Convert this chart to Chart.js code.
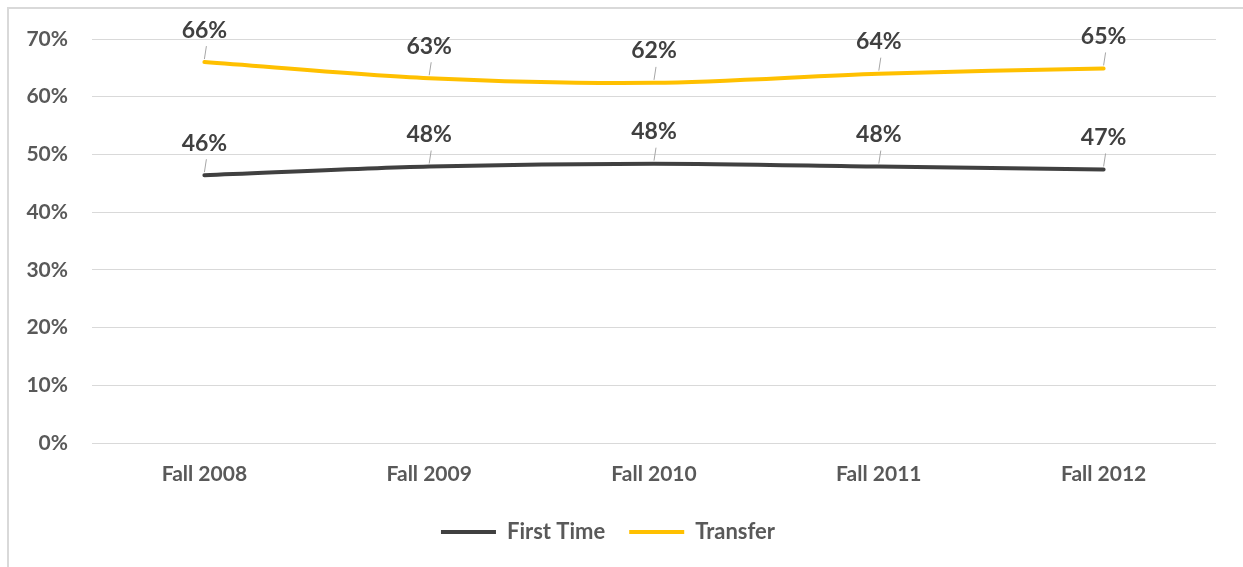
<!DOCTYPE html>
<html lang="en">
<head>
<meta charset="UTF-8">
<title>First Time vs Transfer</title>
<script src="https://cdn.jsdelivr.net/npm/chart.js"></script>
<style>
    html, body { margin: 0; padding: 0; background: #fff; overflow: hidden; }
    .frame { position: absolute; left: 7px; top: 7px; width: 1300px; height: 600px;
             border-left: 2px solid #d9d9d9; border-top: 2px solid #d9d9d9; }
    .chart-box { position: absolute; left: 0; top: 0; width: 1243px; height: 567px; }
</style>
</head>
<body>
<div class="frame"></div>
<div class="chart-box">
    <canvas id="lineChart"></canvas>
</div>

<script>
const terms = ['Fall 2008', 'Fall 2009', 'Fall 2010', 'Fall 2011', 'Fall 2012'];
const firstTime = [46.4, 47.9, 48.4, 47.9, 47.4];
const transfer = [66.0, 63.2, 62.4, 64.0, 64.9];
const yTicks = [0, 10, 20, 30, 40, 50, 60, 70];

const textColor = '#595959';
const labelColor = '#404040';
const fontName = 'Lato, "Open Sans", sans-serif';

// data labels above each point, with a short leader line
const pointLabels = {
    id: 'pointLabels',
    afterDatasetsDraw(chart) {
        const ctx = chart.ctx;
        ctx.save();
        chart.data.datasets.forEach((ds, i) => {
            chart.getDatasetMeta(i).data.forEach((pt, j) => {
                ctx.strokeStyle = '#a6a6a6';
                ctx.lineWidth = 1;
                ctx.beginPath();
                ctx.moveTo(pt.x, pt.y - 3);
                ctx.lineTo(pt.x + 2, pt.y - 16);
                ctx.stroke();
                ctx.fillStyle = labelColor;
                ctx.font = 'bold 23px ' + fontName;
                ctx.textAlign = 'center';
                ctx.textBaseline = 'middle';
                ctx.fillText(Math.round(ds.data[j]) + '%', pt.x, pt.y - 32);
            });
        });
        ctx.restore();
    }
};

new Chart(document.getElementById('lineChart'), {
    type: 'line',
    data: {
        labels: terms,
        datasets: [
            { label: 'First Time', data: firstTime, borderColor: '#404040', backgroundColor: '#404040',
              borderWidth: 4, pointRadius: 0, tension: 0.3, borderCapStyle: 'round' },
            { label: 'Transfer', data: transfer, borderColor: '#ffc000', backgroundColor: '#ffc000',
              borderWidth: 4, pointRadius: 0, tension: 0.3, borderCapStyle: 'round' }
        ]
    },
    options: {
        responsive: true,
        maintainAspectRatio: false,
        animation: false,
        layout: { padding: { top: 39, right: 27, bottom: 14, left: 0 } },
        plugins: {
            tooltip: { enabled: false },
            legend: {
                position: 'bottom',
                labels: {
                    color: textColor,
                    font: { family: fontName, size: 22, weight: 'bold' },
                    boxWidth: 55, boxHeight: 0, padding: 24,
                    generateLabels(chart) {
                        return chart.data.datasets.map((ds, i) => ({
                            text: ds.label, strokeStyle: ds.borderColor, fillStyle: ds.borderColor,
                            lineWidth: 4, lineCap: 'round', fontColor: textColor, datasetIndex: i
                        }));
                    }
                }
            }
        },
        scales: {
            x: {
                offset: true,
                grid: { display: false },
                border: { display: false },
                ticks: { color: textColor, font: { family: fontName, size: 21, weight: 'bold' }, padding: 11 },
                afterFit(scale) { scale.height = 54; }
            },
            y: {
                min: 0, max: 70,
                afterBuildTicks(scale) { scale.ticks = yTicks.map(v => ({ value: v })); },
                grid: { color: '#d9d9d9', drawTicks: false },
                border: { display: false },
                ticks: { color: textColor, font: { family: fontName, size: 21, weight: 'bold' }, padding: 24,
                         callback: v => v + '%' },
                afterFit(scale) { scale.width = 92; }
            }
        }
    },
    plugins: [pointLabels]
});
</script>
</body>
</html>
